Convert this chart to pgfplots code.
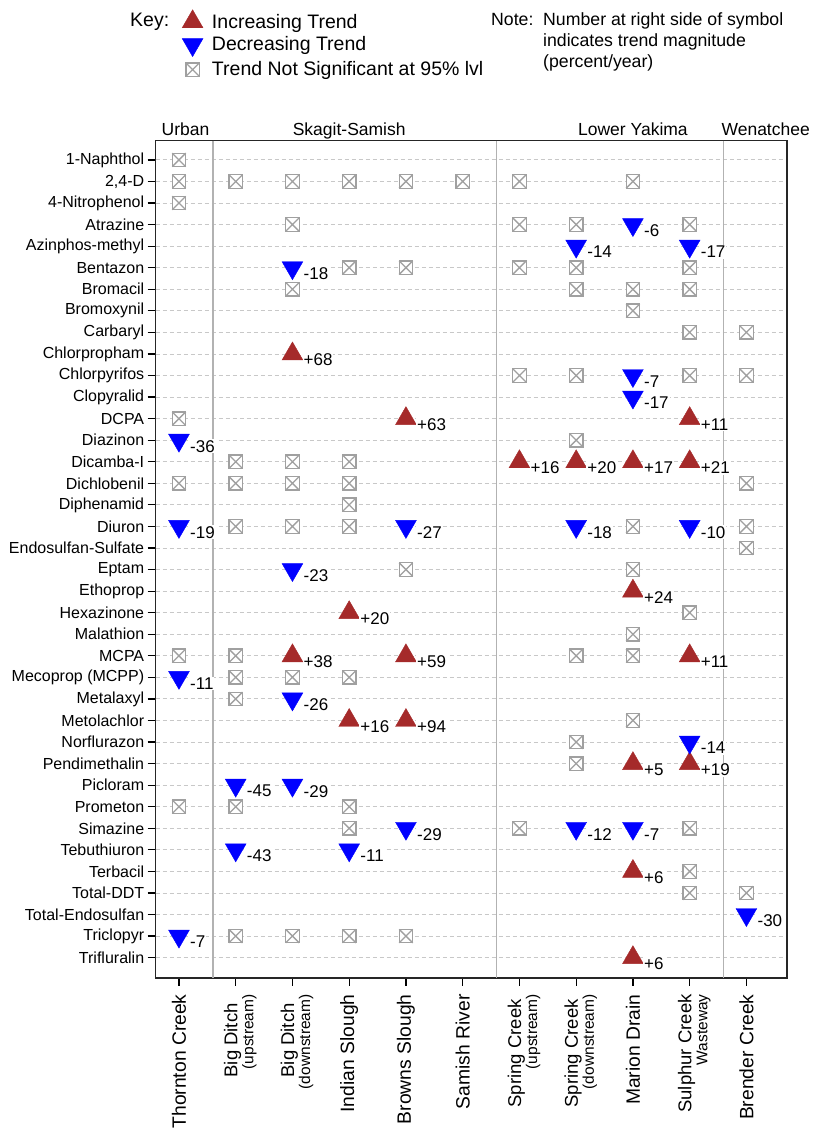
\documentclass[border=0pt]{standalone}
\usepackage{fontspec}
\setmainfont{Liberation Sans}
\usepackage{pgfplots}
\pgfplotsset{compat=1.18}
\usepackage{pgfplotstable}

\definecolor{upred}{RGB}{165,42,42}
\definecolor{downblue}{RGB}{0,0,255}
\definecolor{nsgray}{RGB}{160,160,160}
\definecolor{gridgray}{RGB}{200,200,200}
\definecolor{sepgray}{RGB}{178,178,178}

\pgfdeclareplotmark{boxx}{%
 \pgfpathrectangle{\pgfqpoint{-\pgfplotmarksize}{-\pgfplotmarksize}}{\pgfqpoint{2\pgfplotmarksize}{2\pgfplotmarksize}}%
 \pgfusepathqfillstroke
 \pgfpathmoveto{\pgfqpoint{-\pgfplotmarksize}{-\pgfplotmarksize}}%
 \pgfpathlineto{\pgfqpoint{\pgfplotmarksize}{\pgfplotmarksize}}%
 \pgfpathmoveto{\pgfqpoint{-\pgfplotmarksize}{\pgfplotmarksize}}%
 \pgfpathlineto{\pgfqpoint{\pgfplotmarksize}{-\pgfplotmarksize}}%
 \pgfusepathqstroke}

% two-line site label: main name, extra offset, small second line
\newcommand{\two}[3]{{\fontsize{18.5}{18.5}\selectfont #1}\kern#2\llap{\smash{\raisebox{-16pt}{\fontsize{15.5}{15.5}\selectfont #3}}}\rule[-10pt]{0pt}{0pt}}

% x = site index (0..10), y = pesticide row (0 = top)
\pgfplotstableread{
x y lab
2 9 +68
4 12 +63
9 12 +11
6 14 +16
7 14 +20
8 14 +17
9 14 +21
8 20 +24
3 21 +20
2 23 +38
4 23 +59
9 23 +11
3 26 +16
4 26 +94
8 28 +5
9 28 +19
8 33 +6
8 37 +6
}\upT

\pgfplotstableread{
x y lab
8 3 -6
7 4 -14
9 4 -17
2 5 -18
8 10 -7
8 11 -17
0 13 -36
0 17 -19
4 17 -27
7 17 -18
9 17 -10
2 19 -23
0 24 -11
2 25 -26
9 27 -14
1 29 -45
2 29 -29
4 31 -29
7 31 -12
8 31 -7
1 32 -43
3 32 -11
10 35 -30
0 36 -7
}\downT

\pgfplotstableread{
x y
0 0
0 1
1 1
2 1
3 1
4 1
5 1
6 1
8 1
0 2
2 3
6 3
7 3
9 3
3 5
4 5
6 5
7 5
9 5
2 6
7 6
8 6
9 6
8 7
9 8
10 8
6 10
7 10
9 10
10 10
0 12
7 13
1 14
2 14
3 14
0 15
1 15
2 15
3 15
10 15
3 16
1 17
2 17
3 17
8 17
10 17
10 18
4 19
8 19
9 21
8 22
0 23
1 23
7 23
8 23
1 24
2 24
3 24
1 25
8 26
7 27
7 28
0 30
1 30
3 30
3 31
6 31
9 31
9 33
9 34
10 34
1 36
2 36
3 36
4 36
}\nsT

\begin{document}
\begin{tikzpicture}
\path[use as bounding box] (0pt,0pt) rectangle (814pt,1130pt);
\begin{axis}[
  at={(155.7pt,152.3pt)}, anchor=south west,
  width=631pt, height=837.2pt, scale only axis,
  xmin=-0.41, xmax=10.71,
  ymin=-0.9, ymax=37.93, y dir=reverse,
  xtick={0,...,10}, ytick={0,...,37},
  xticklabels={{Thornton Creek},{\two{Big Ditch}{9pt}{(upstream)}},{\two{Big Ditch}{9pt}{(downstream)}},{Indian Slough},{Browns Slough},{Samish River},{\two{Spring Creek}{5pt}{(upstream)}},{\two{Spring Creek}{5pt}{(downstream)}},{Marion Drain},{\two{Sulphur Creek}{0pt}{Wasteway}},{Brender Creek}},
  yticklabels={1-Naphthol,{2,4-D},4-Nitrophenol,Atrazine,Azinphos-methyl,Bentazon,Bromacil,Bromoxynil,Carbaryl,Chlorpropham,Chlorpyrifos,Clopyralid,DCPA,Diazinon,Dicamba-I,Dichlobenil,Diphenamid,Diuron,Endosulfan-Sulfate,Eptam,Ethoprop,Hexazinone,Malathion,MCPA,Mecoprop (MCPP),Metalaxyl,Metolachlor,Norflurazon,Pendimethalin,Picloram,Prometon,Simazine,Tebuthiuron,Terbacil,Total-DDT,Total-Endosulfan,Triclopyr,Trifluralin},
  tick align=outside, xtick pos=bottom, ytick pos=left,
  major tick length=8pt,
  every tick/.style={black, line width=1.2pt},
  axis line style={black!85, line width=1.6pt},
  ymajorgrids, grid style={gridgray, dash pattern=on 4pt off 3pt, line width=0.9pt},
  yticklabel style={font=\fontsize{16}{16}\selectfont},
  xticklabel style={rotate=90, anchor=east, inner xsep=8.5pt, font=\fontsize{19.3}{19.3}\selectfont},
  clip=false,
  legend cell align=left,
  legend style={at={(0.0417,1.1564)}, anchor=north west, draw=none, fill=none,
     inner sep=0pt, row sep=3.2pt, column sep=7pt, nodes={inner sep=2pt},
     font=\fontsize{19.5}{23}\selectfont},
]
\addplot[sepgray, line width=1.4pt, forget plot] coordinates {(0.6,-0.9) (0.6,37.93)};
\addplot[sepgray, line width=1.4pt, forget plot] coordinates {(5.6,-0.9) (5.6,37.93)};
\addplot[sepgray, line width=1.4pt, forget plot] coordinates {(9.6,-0.9) (9.6,37.93)};

\addplot[only marks, mark=triangle*, mark size=12pt, color=upred,
  mark options={line width=0.4pt},
  point meta=explicit symbolic, nodes near coords={\pgfplotspointmeta},
  every node near coord/.style={anchor=west, xshift=10pt, yshift=-6pt, text=black,
     fill=white, inner sep=1pt, font=\fontsize{17}{17}\selectfont}]
  table[x=x, y=y, meta=lab] {\upT};
\addlegendentry{Increasing Trend}

\addplot[only marks, mark=triangle*, mark size=12pt, color=downblue,
  mark options={rotate=180, line width=0.4pt},
  point meta=explicit symbolic, nodes near coords={\pgfplotspointmeta},
  every node near coord/.style={anchor=west, xshift=10pt, yshift=-6pt, text=black,
     fill=white, inner sep=1pt, font=\fontsize{17}{17}\selectfont}]
  table[x=x, y=y, meta=lab] {\downT};
\addlegendentry{Decreasing Trend}

\addplot[only marks, mark=boxx, mark size=6.75pt, color=nsgray,
  mark options={fill=white, line width=1.3pt}]
  table[x=x, y=y] {\nsT};
\addlegendentry{Trend Not Significant at 95\% lvl}

\node[anchor=base, font=\fontsize{17.5}{17.5}\selectfont] at (axis cs:0.115,-1.146) {Urban};
\node[anchor=base, font=\fontsize{17.5}{17.5}\selectfont] at (axis cs:3.0,-1.146) {Skagit-Samish};
\node[anchor=base, font=\fontsize{17.5}{17.5}\selectfont] at (axis cs:8.0,-1.146) {Lower Yakima};
\node[anchor=base, font=\fontsize{17.5}{17.5}\selectfont] at (axis cs:10.34,-1.146) {Wenatchee};
\end{axis}
\node[anchor=base west, inner sep=0pt, font=\fontsize{19.5}{19.5}\selectfont] at (130pt,1103pt) {Key:};
\node[anchor=base west, inner sep=0pt, font=\fontsize{17.7}{17.7}\selectfont] at (491pt,1104.6pt) {Note:};
\node[anchor=base west, inner sep=0pt, font=\fontsize{17.7}{17.7}\selectfont] at (543pt,1104.6pt) {Number at right side of symbol};
\node[anchor=base west, inner sep=0pt, font=\fontsize{17.7}{17.7}\selectfont] at (543pt,1083.6pt) {indicates trend magnitude};
\node[anchor=base west, inner sep=0pt, font=\fontsize{17.7}{17.7}\selectfont] at (543pt,1062.6pt) {(percent/year)};
\end{tikzpicture}
\end{document}
